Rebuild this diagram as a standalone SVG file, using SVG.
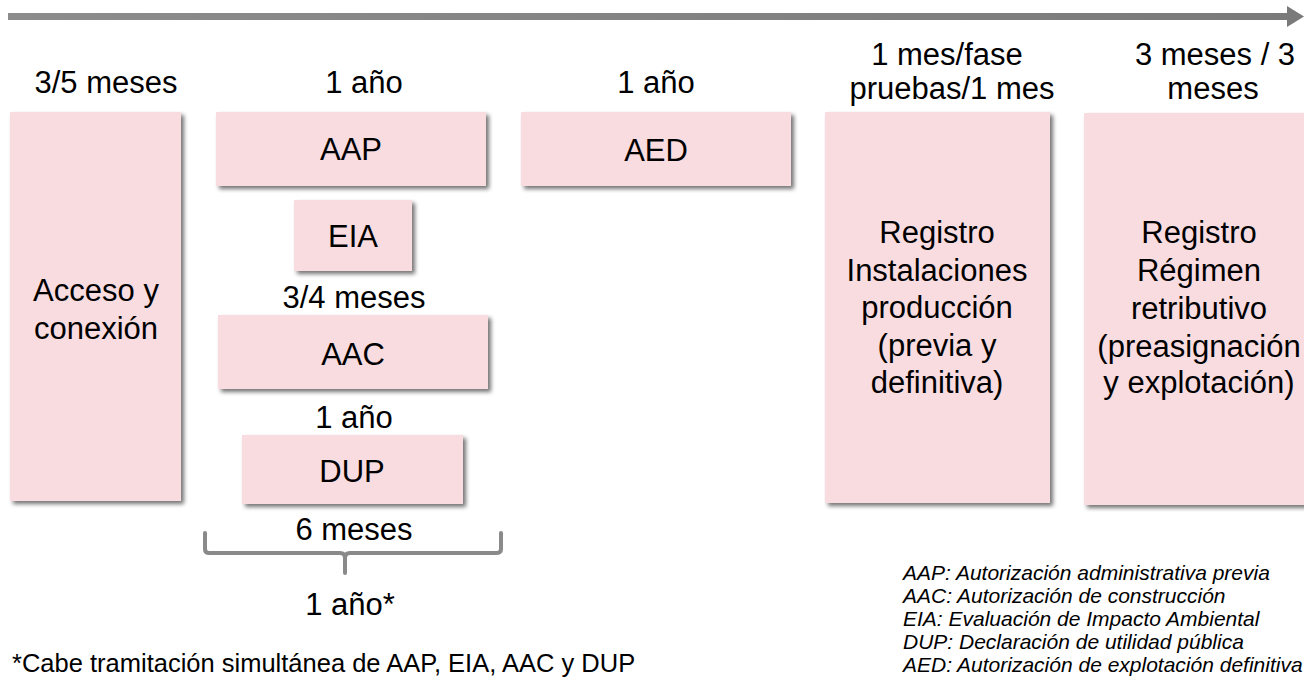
<svg xmlns="http://www.w3.org/2000/svg" width="1304" height="681" viewBox="0 0 1304 681">
<style>
  .box { fill: #F8DCE0; filter: url(#sh); }
  .t { font-family: "Liberation Sans", Arial, sans-serif; font-size: 31px; fill: #000; text-anchor: middle; }
  .leg { font-family: "Liberation Sans", Arial, sans-serif; font-size: 21px; font-style: italic; fill: #000; }
  .note { font-family: "Liberation Sans", Arial, sans-serif; font-size: 25.5px; fill: #000; }
</style>
<defs>
  <filter id="sh" x="-10%" y="-10%" width="130%" height="130%">
    <feGaussianBlur in="SourceAlpha" stdDeviation="2"/>
    <feOffset dx="3" dy="3" result="b"/>
    <feComponentTransfer><feFuncA type="linear" slope="0.55"/></feComponentTransfer>
    <feMerge><feMergeNode/><feMergeNode in="SourceGraphic"/></feMerge>
  </filter>
  <linearGradient id="ag" x1="0" y1="0" x2="1" y2="0">
    <stop offset="0" stop-color="#8c8c8c"/>
    <stop offset="1" stop-color="#7a7a7a"/>
  </linearGradient>
</defs>
<rect width="1304" height="681" fill="#fff"/>

<g id="timeline">
  <rect x="8" y="13" width="1282" height="7" fill="url(#ag)"/>
  <polygon points="1287,6 1304,16.5 1287,27" fill="#7a7a7a"/>
</g>

<g id="durations">
  <text class="t" x="106" y="93">3/5 meses</text>
  <text class="t" x="364" y="93">1 año</text>
  <text class="t" x="656" y="93">1 año</text>
  <text class="t" x="947" y="65">1 mes/fase</text>
  <text class="t" x="952" y="99">pruebas/1 mes</text>
  <text class="t" x="1215" y="65">3 meses / 3</text>
  <text class="t" x="1213" y="99">meses</text>
</g>

<g id="acceso">
  <rect class="box" x="10" y="112" width="171" height="389"/>
  <text class="t" x="96" y="301">Acceso y</text>
  <text class="t" x="96" y="339">conexión</text>
</g>

<g id="aap">
  <rect class="box" x="216" y="112" width="270" height="74"/>
  <text class="t" x="351" y="160">AAP</text>
</g>

<g id="eia">
  <rect class="box" x="294" y="200" width="118" height="71"/>
  <text class="t" x="353" y="247">EIA</text>
</g>

<g id="lbl-aac">
  <text class="t" x="354" y="308">3/4 meses</text>
</g>

<g id="aac">
  <rect class="box" x="218" y="315" width="270" height="74"/>
  <text class="t" x="353" y="365">AAC</text>
</g>

<g id="lbl-dup">
  <text class="t" x="354" y="428">1 año</text>
</g>

<g id="dup">
  <rect class="box" x="242" y="435" width="221" height="69"/>
  <text class="t" x="352" y="482">DUP</text>
</g>

<g id="aed">
  <rect class="box" x="521" y="112" width="270" height="74"/>
  <text class="t" x="656" y="161">AED</text>
</g>

<g id="reg-inst">
  <rect class="box" x="825" y="112" width="225" height="391"/>
  <text class="t" x="937" y="243">Registro</text>
  <text class="t" x="937" y="281">Instalaciones</text>
  <text class="t" x="937" y="318">producción</text>
  <text class="t" x="937" y="356">(previa y</text>
  <text class="t" x="937" y="393">definitiva)</text>
</g>

<g id="reg-reg">
  <rect class="box" x="1084" y="113" width="240" height="392"/>
  <text class="t" x="1199" y="243">Registro</text>
  <text class="t" x="1199" y="281">Régimen</text>
  <text class="t" x="1199" y="319">retributivo</text>
  <text class="t" x="1199" y="357">(preasignación</text>
  <text class="t" x="1199" y="393">y explotación)</text>
</g>

<g id="connectors">
  <path d="M205,533 V549 Q205,553 209,553 H340 Q345,553 345,558 V573 M345,558 Q345,553 350,553 H496 Q501,553 501,549 V533" fill="none" stroke="#8a8a8a" stroke-width="4" stroke-linecap="round" stroke-linejoin="round"/>
</g>

<g id="brace-labels">
  <text class="t" x="354" y="540">6 meses</text>
  <text class="t" x="350" y="615">1 año*</text>
</g>

<g id="legend">
  <text class="leg" x="903" y="580">AAP: Autorización administrativa previa</text>
  <text class="leg" x="903" y="603">AAC: Autorización de construcción</text>
  <text class="leg" x="903" y="626">EIA: Evaluación de Impacto Ambiental</text>
  <text class="leg" x="903" y="649">DUP: Declaración de utilidad pública</text>
  <text class="leg" x="903" y="672">AED: Autorización de explotación definitiva</text>
</g>

<g id="footnote">
  <text class="note" x="12" y="672">*Cabe tramitación simultánea de AAP, EIA, AAC y DUP</text>
</g>
</svg>
